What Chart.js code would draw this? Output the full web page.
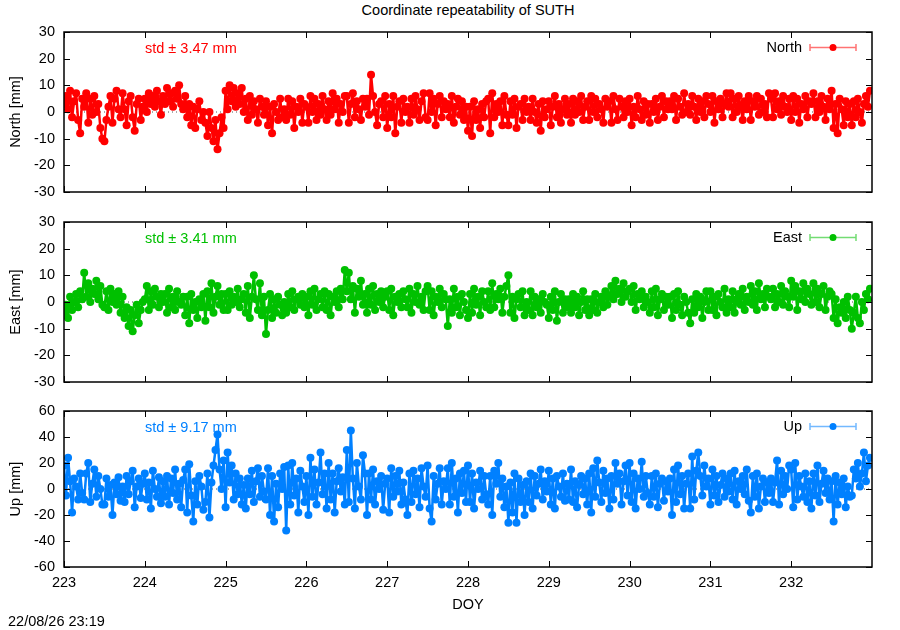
<!DOCTYPE html>
<html>
<head>
<meta charset="utf-8">
<title>Coordinate repeatability of SUTH</title>
<script src="https://cdn.jsdelivr.net/npm/chart.js@4.4.0/dist/chart.umd.min.js"></script>
<style>
    body { margin: 0; background: #fff; font-family: "Liberation Sans", Arial, sans-serif; }
    #page { position: relative; width: 900px; height: 630px; overflow: hidden; }
    #page canvas { position: absolute; left: 0; }
    #plotTitle { position: absolute; top: 2px; left: 64px; width: 808px; text-align: center; font-size: 14.5px; }
    #stamp { position: absolute; left: 8px; top: 613px; font-size: 14.5px; }
</style>
</head>
<body>
<div id="page">
    <div id="plotTitle">Coordinate repeatability of SUTH</div>
    <canvas id="northChart" width="900" height="200" style="top:0px"></canvas>
    <canvas id="eastChart" width="900" height="200" style="top:200px"></canvas>
    <canvas id="upChart" width="900" height="230" style="top:400px"></canvas>
    <div id="stamp">22/08/26 23:19</div>
</div>
<script>
// Solution epochs: one every 0.025 day starting at DOY 223
const epochStart = 223.0;
const epochStep = 0.025;

const doyTicks = [223, 224, 225, 226, 227, 228, 229, 230, 231, 232];

// Residuals in mm (one line = a quarter of a day)
const northMm = [
    3, 6, 1, 8, -2, 4, 7, -3, -8, 5,
    2, 7, -4, 5, -1, 6, 0, 3, -6, -10,
    -11, -3, 2, 6, -4, 5, 8, 1, -2, 7,
    1, -5, 4, 6, -2, -7, 3, 5, -3, 2,
    5, 0, 7, 3, 6, 2, 8, 4, -1, 6,
    3, 9, 4, 7, 2, 8, 5, 10, 3, 1,
    6, -2, 3, -5, 2, -6, 1, 4, -3, 0,
    -4, -9, 0, -6, -11, -3, -14, -8, -2, -6,
    8, 1, 10, 4, 9, 2, 7, 3, 9, 0,
    5, -3, 6, -1, 4, 1, -4, 5, 2, -1,
    4, -5, 2, -8, 3, 0, -3, 5, -2, 1,
    -3, 5, -1, 4, -6, 2, 0, 5, -4, 3,
    2, -4, 6, 0, 5, -3, 3, -1, 6, 1,
    -3, 4, -1, 7, 1, 5, -4, 3, 0, 6,
    6, -4, 3, 7, -2, 4, 1, -3, 5, 2,
    5, -1, 14, 6, 0, -5, 3, 4, -2, 6,
    -6, 3, -2, 6, -8, 2, 4, -4, 5, 0,
    2, -4, 5, -1, 6, 1, -3, 4, 7, -2,
    -3, 7, 0, 5, -5, 3, 6, -2, 4, 1,
    3, -2, 6, -4, 2, 5, -1, 4, -3, 2,
    -7, 2, -9, 4, -3, 1, -6, 3, -2, 4,
    5, -8, 7, -2, 3, 0, 4, -5, 6, -1,
    -5, 4, -1, 5, -6, 2, 3, -3, 5, 0,
    2, -3, 5, 0, -4, 3, -7, 4, -2, 1,
    4, -5, 2, 6, -2, 3, -4, 1, 5, -1,
    3, -4, 5, -1, 4, 0, 6, -3, 2, 4,
    -3, 6, 0, 5, -2, 3, 1, -4, 5, 2,
    4, -4, 6, 1, -3, 5, 2, -2, 4, 0,
    5, -5, 2, -2, 6, 1, -3, 4, -1, 3,
    -4, 3, 0, 5, -3, 2, 6, -2, 4, 1,
    4, 1, 6, -3, 5, 2, -1, 7, 0, 3,
    -1, 6, 2, -3, 5, 0, 4, -2, 6, 3,
    0, 6, -4, 4, 1, 5, -2, 3, 7, 2,
    7, -2, 5, 0, 6, 2, -3, 4, 1, 6,
    -3, 4, 2, 6, -1, 5, 0, 3, -2, 7,
    5, -2, 7, 1, 4, -1, 6, 2, 0, 5,
    -3, 6, 0, 5, -4, 3, 1, 6, -2, 4,
    3, 7, -2, 4, 0, 6, 2, -3, 5, 1,
    8, -6, 3, -8, 5, 1, -5, 4, -2, 3,
    -5, 4, -2, 5, 0, -4, 3, 6, 2, 8
];

const eastMm = [
    -5, -1, -6, 2, -3, 0, 3, -2, 4, 1,
    11, 2, 7, 0, 5, 3, 8, 1, 6, -1,
    -2, 4, -3, 5, 0, 3, -1, 4, -4, 2,
    -6, -2, -9, -3, -11, -5, -1, -8, -3, 0,
    1, 6, -3, 4, -1, 5, 2, -2, 3, 0,
    3, -4, 5, -2, 2, -3, 4, 0, -1, 2,
    -5, 2, -8, 3, -3, 0, -6, 1, -2, 3,
    -7, 4, -2, 7, -4, 2, 6, -1, 3, -3,
    3, -3, 4, -1, 2, 0, 5, -2, 1, 3,
    -4, 6, -6, 2, 10, 1, -3, 7, -5, 2,
    -12, -3, 3, -6, 1, -4, 2, -1, -5, 0,
    -4, 3, -2, 4, -3, 1, 2, -1, 3, -2,
    2, -5, 4, -1, 5, -3, 1, 3, -2, 4,
    -3, 3, -5, 2, 0, 4, -2, 5, 1, 12,
    4, 11, 1, 6, -4, 5, 2, 8, -1, 3,
    -4, 5, -1, 6, -3, 3, 0, 4, -2, 2,
    4, -3, 5, -5, 2, 0, 3, -2, 4, 1,
    -2, 5, -4, 3, 0, 6, -1, 2, -3, 4,
    6, -3, 4, -5, 2, 0, 5, -2, 3, 1,
    -9, 1, -4, 5, -2, 2, -5, 3, 0, -3,
    -6, 3, -4, 5, -1, 2, -5, 4, 0, -2,
    4, -3, 7, -2, 3, 1, 5, -4, 2, 6,
    10, -4, 2, -6, 1, 3, -2, 4, -5, 0,
    -3, 4, -5, 2, -2, 1, -4, 3, 0, -1,
    -6, 2, -3, 4, -7, 0, 3, -4, 1, -2,
    1, -4, 3, -2, 2, -5, 0, 4, -3, 1,
    -5, 1, -3, 3, -4, 0, 2, -2, 4, -1,
    2, 6, 1, 8, 3, 5, 0, 7, 2, 4,
    5, 0, 6, -3, 3, 1, 4, -2, 2, 0,
    -4, 4, -2, 5, -5, 1, 3, -3, 2, -1,
    2, -6, 3, -3, 4, -1, -5, 2, 0, -4,
    -8, 1, -4, 3, -2, 2, -6, 0, 4, -3,
    4, -3, 2, -5, 3, 0, -2, 5, -4, 1,
    -2, 4, -4, 1, 3, -1, 5, -3, 2, 0,
    6, -1, 4, -3, 7, 1, 3, -2, 5, 2,
    1, 5, -2, 3, 0, 6, -1, 4, 2, -2,
    8, 2, 6, -3, 4, 1, 7, 0, 5, 3,
    -1, 7, 0, 5, -2, 3, 6, -3, 2, 4,
    3, -6, 1, -8, -2, -4, 0, -6, 2, -3,
    -10, -4, 2, -6, -8, 0, -3, 3, 1, 5
];

const upMm = [
    18, -5, 24, 6, -18, 8, 2, -8, 12, -3,
    -8, 12, 20, -10, 4, 15, -6, 10, 0, -12,
    -12, 8, -6, 3, -20, 5, -4, 9, -9, 2,
    -10, 10, -4, 6, 14, -14, 2, 8, -7, 4,
    12, -8, 5, -15, 14, 0, -6, 9, -11, 6,
    -6, 10, -12, 8, -3, 15, -8, 4, -14, 7,
    15, -18, 19, -5, -25, 6, -12, 10, 2, -16,
    -10, 12, -22, 5, 18, 30, 42, 15, 0, 22,
    -14, 28, 5, 18, -8, 12, -4, 8, -12, 3,
    -15, 8, -4, 14, -10, 6, 16, -6, 10, -2,
    -8, 16, -20, 10, -25, 4, -14, 12, 0, 17,
    -32, 18, -12, 20, -5, 8, -18, 14, 2, -10,
    10, -20, 24, -6, 15, -12, 5, 28, -4, 12,
    -15, 20, -8, 12, -18, 6, 16, -2, 9, -12,
    30, -10, 45, 8, -15, 20, 2, -8, 26, 12,
    -20, 12, -8, 15, -12, 6, 0, 10, -16, 4,
    8, -18, 16, -6, 10, -2, 14, -12, 5, -8,
    -20, 12, -10, 14, -4, 8, -14, 16, 2, -6,
    18, -15, -25, 10, -8, 4, 16, -12, 6, 0,
    16, -12, 20, -6, 8, -18, 12, -3, 14, -10,
    18, -10, 12, -15, 5, 0, 14, -8, 10, -4,
    -12, 10, -20, 14, 4, 20, -6, 8, -14, 2,
    -26, 5, -18, 12, -26, 8, -10, 3, -20, 6,
    -10, 12, -15, 10, -5, 4, 15, -8, 6, -2,
    14, -12, 8, -15, 10, 2, -6, 12, -9, 4,
    -8, 15, -10, 6, -14, 3, 10, -4, 8, -12,
    12, -18, 16, -6, 22, 5, -10, 14, -3, 8,
    -15, 10, -8, 20, 4, 12, -12, 6, 18, -5,
    20, -10, 12, -15, 8, 0, 21, -6, 10, -3,
    -12, 10, -6, 12, -14, 4, 8, -9, 6, -2,
    8, -20, 15, -10, 18, -4, 10, -15, 4, 12,
    -15, 25, -8, 14, 28, 10, -5, 18, 2, 8,
    -12, 15, -5, 10, -10, 3, 12, -6, 8, -2,
    12, -8, 14, -12, 6, 0, 10, -4, 15, -9,
    -18, 10, -6, 12, -15, 2, 8, -10, 5, -3,
    8, -10, 5, 22, -12, 14, -4, 10, 0, 18,
    15, -14, 20, -8, 10, 2, -6, 12, -10, 6,
    -15, 12, -5, 18, -10, 4, 14, -3, 8, -8,
    6, -25, 10, -12, 5, -4, 8, -14, 2, -6,
    -5, 15, 8, 20, 2, 12, 28, 6, 18, 24
];

// The one flagged (black) Up solution
const flaggedDoy = [225.48];
const flaggedUp = [-8];

const FONT = { family: '"Liberation Sans", Arial, sans-serif', size: 14.5 };

function toPoints(values) {
    return values.map((v, i) => ({ x: epochStart + i * epochStep, y: v }));
}

// gnuplot look: dotted zero line, framed box, inward ticks, key with errorbar sample, std label
const gnuplotFrame = {
    id: 'gnuplotFrame',
    beforeDatasetsDraw(chart) {
        const { ctx, chartArea: a, scales: { y } } = chart;
        const y0 = y.getPixelForValue(0);
        ctx.save();
        ctx.setLineDash([1, 3]);
        ctx.strokeStyle = '#555';
        ctx.lineWidth = 1;
        ctx.beginPath();
        ctx.moveTo(a.left, y0);
        ctx.lineTo(a.right, y0);
        ctx.stroke();
        ctx.restore();
    },
    afterDraw(chart, args, opts) {
        const { ctx, chartArea: a, scales: { x, y } } = chart;
        const tick = 6;
        ctx.save();
        ctx.strokeStyle = '#000';
        ctx.lineWidth = 1;
        ctx.beginPath();
        x.ticks.forEach(t => {
            const px = Math.round(x.getPixelForValue(t.value)) + 0.5;
            ctx.moveTo(px, a.bottom); ctx.lineTo(px, a.bottom - tick);
            ctx.moveTo(px, a.top); ctx.lineTo(px, a.top + tick);
        });
        y.ticks.forEach(t => {
            const py = Math.round(y.getPixelForValue(t.value)) + 0.5;
            ctx.moveTo(a.left, py); ctx.lineTo(a.left + tick, py);
            ctx.moveTo(a.right, py); ctx.lineTo(a.right - tick, py);
        });
        ctx.stroke();

        ctx.lineWidth = 1.5;
        ctx.strokeRect(a.left, a.top, a.right - a.left, a.bottom - a.top);

        // std label
        ctx.font = `${FONT.size}px ${FONT.family}`;
        ctx.fillStyle = opts.color;
        ctx.textBaseline = 'middle';
        ctx.textAlign = 'left';
        ctx.fillText(opts.stdText, a.left + 81, a.top + 17);

        // key
        const ky = a.top + 15.5;
        ctx.fillStyle = '#000';
        ctx.textAlign = 'right';
        ctx.fillText(opts.keyText, a.right - 70, ky);
        const x1 = a.right - 62, x2 = a.right - 16;
        ctx.strokeStyle = opts.keyLine;
        ctx.lineWidth = 1.5;
        ctx.beginPath();
        ctx.moveTo(x1, ky); ctx.lineTo(x2, ky);
        ctx.moveTo(x1, ky - 3.5); ctx.lineTo(x1, ky + 3.5);
        ctx.moveTo(x2, ky - 3.5); ctx.lineTo(x2, ky + 3.5);
        ctx.stroke();
        ctx.fillStyle = opts.color;
        ctx.beginPath();
        ctx.arc((x1 + x2) / 2, ky, 3.5, 0, Math.PI * 2);
        ctx.fill();
        ctx.restore();
    }
};

function makePanel(canvasId, cfg) {
    const ctx = document.getElementById(canvasId);
    const datasets = [{
        data: toPoints(cfg.values),
        showLine: true,
        borderColor: cfg.color,
        borderWidth: 2.5,
        borderJoinStyle: 'round',
        borderCapStyle: 'round',
        backgroundColor: cfg.color,
        pointRadius: 4,
        pointBorderWidth: 0,
        pointStyle: 'circle'
    }];
    if (cfg.extra) datasets.push(cfg.extra);

    return new Chart(ctx, {
        type: 'scatter',
        data: { datasets: datasets },
        plugins: [gnuplotFrame],
        options: {
            responsive: false,
            animation: false,
            events: [],
            layout: {
                padding: { left: 0, right: 28, top: cfg.padTop, bottom: cfg.padBottom }
            },
            scales: {
                x: {
                    type: 'linear',
                    min: 223,
                    max: 233,
                    grid: { display: false, drawTicks: false },
                    border: { display: false },
                    afterBuildTicks: scale => { scale.ticks = doyTicks.map(v => ({ value: v })); },
                    afterFit: scale => {
                        scale.height = cfg.xHeight;
                        scale.paddingLeft = 0;
                        scale.paddingRight = 0;
                    },
                    ticks: {
                        display: cfg.showX,
                        color: '#000',
                        font: FONT,
                        padding: 7,
                        maxRotation: 0,
                        autoSkip: false
                    },
                    title: {
                        display: cfg.showX,
                        text: 'DOY',
                        color: '#000',
                        font: FONT,
                        padding: { top: 0, bottom: 16 }
                    }
                },
                y: {
                    min: -cfg.range,
                    max: cfg.range,
                    grid: { display: false, drawTicks: false },
                    border: { display: false },
                    afterFit: scale => {
                        scale.width = 64;
                        scale.paddingTop = 0;
                        scale.paddingBottom = 0;
                    },
                    ticks: {
                        stepSize: cfg.step,
                        color: '#000',
                        font: FONT,
                        padding: 9
                    },
                    title: {
                        display: true,
                        text: cfg.axisTitle,
                        color: '#000',
                        font: FONT,
                        padding: { top: 7, bottom: 0 }
                    }
                }
            },
            plugins: {
                legend: { display: false },
                tooltip: { enabled: false },
                gnuplotFrame: {
                    color: cfg.color,
                    keyLine: cfg.keyLine,
                    keyText: cfg.keyText,
                    stdText: cfg.stdText
                }
            }
        }
    });
}

makePanel('northChart', {
    values: northMm, color: '#ff0000', keyLine: 'rgba(255,0,0,0.55)',
    keyText: 'North', stdText: 'std \u00b1 3.47 mm', axisTitle: 'North [mm]',
    range: 30, step: 10, padTop: 32, padBottom: 8, xHeight: 0, showX: false
});

makePanel('eastChart', {
    values: eastMm, color: '#00c000', keyLine: 'rgba(0,192,0,0.55)',
    keyText: 'East', stdText: 'std \u00b1 3.41 mm', axisTitle: 'East [mm]',
    range: 30, step: 10, padTop: 22, padBottom: 18, xHeight: 0, showX: false
});

makePanel('upChart', {
    values: upMm, color: '#0080ff', keyLine: 'rgba(0,128,255,0.55)',
    keyText: 'Up', stdText: 'std \u00b1 9.17 mm', axisTitle: 'Up [mm]',
    range: 60, step: 20, padTop: 11, padBottom: 0, xHeight: 63, showX: true,
    extra: {
        data: flaggedDoy.map((d, i) => ({ x: d, y: flaggedUp[i] })),
        backgroundColor: '#000',
        pointRadius: 2.5,
        pointBorderWidth: 0
    }
});
</script>
</body>
</html>
